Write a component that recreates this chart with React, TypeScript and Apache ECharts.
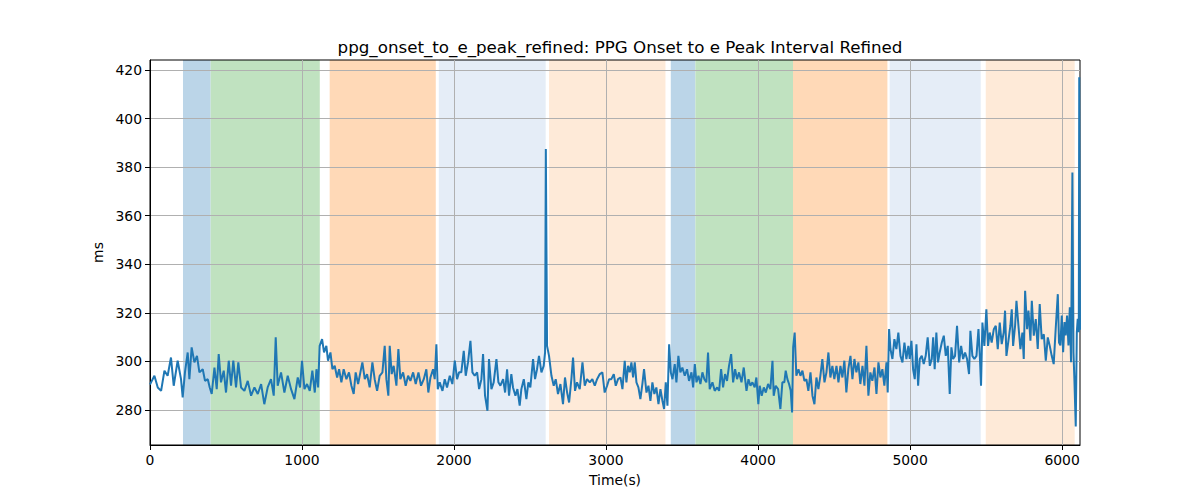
import React, { useEffect, useRef } from "react";
import * as echarts from "echarts";

const TITLE = "ppg_onset_to_e_peak_refined: PPG Onset to e Peak Interval Refined";
const X_LABEL = "Time(s)";
const Y_LABEL = "ms";
const X_TICKS = [0, 1000, 2000, 3000, 4000, 5000, 6000];
const Y_TICKS = [280, 300, 320, 340, 360, 380, 400, 420];
const X_MIN = 0;
const X_MAX = 6118;
const Y_MIN = 265.6;
const Y_MAX = 424.1;

const BAND_STARTS = [217, 399, 1182, 1900, 2625, 3426, 3588, 4230, 4866, 5498];
const BAND_ENDS = [399, 1117, 1880, 2603, 3391, 3588, 4230, 4851, 5465, 6083];
const BAND_COLORS = ["#bbd5e8", "#c0e2c0", "#ffd9b7", "#e5edf7", "#feead8", "#bbd5e8", "#c0e2c0", "#ffd9b7", "#e5edf7", "#feead8"];

const TIME_1 = [0, 7, 29, 51, 73, 95, 116, 138, 156, 182, 204, 215, 230, 248, 259, 274, 292, 309, 325, 347, 362, 380, 393, 406, 424, 439, 452, 467, 485, 500, 518, 533, 548, 566, 581, 599, 621, 643, 665, 687, 709, 731, 752, 774, 796, 814, 827, 840, 862, 884, 906, 928, 950, 972, 987, 1000, 1016, 1033];
const VALUE_1 = [290.5, 291.4, 294.1, 289.3, 287.9, 296.2, 294.1, 301.6, 290, 300.3, 292.7, 285.2, 295.5, 303.7, 292.7, 305.8, 299.6, 302.3, 295.5, 296.8, 292, 292.7, 289.3, 286.6, 297.5, 288.6, 303, 291.4, 296.2, 287.2, 300.3, 290, 300.3, 289.3, 299.6, 289.3, 287.9, 292, 285.9, 289.3, 286.6, 290.7, 282.4, 289.3, 292.7, 285.9, 309.9, 290, 295.5, 287.2, 294.1, 288.6, 284.5, 293.4, 289.3, 300.3, 288.6, 290.7];

const TIME_2 = [1051, 1068, 1084, 1095, 1106, 1116, 1132, 1145, 1160, 1171, 1187, 1200, 1215, 1231, 1244, 1259, 1274, 1292, 1309, 1325, 1340, 1353, 1369, 1384, 1397, 1413, 1428, 1445, 1463, 1478, 1494, 1511, 1529, 1544, 1555, 1568, 1577, 1590, 1603, 1621, 1634, 1647, 1665, 1682, 1698, 1713, 1731, 1748, 1766, 1783, 1801, 1818, 1831, 1845, 1862, 1873, 1884, 1893, 1906, 1924, 1939, 1954, 1972, 1989, 2005, 2020, 2033];
const VALUE_2 = [287.9, 296.2, 287.2, 296.8, 289.3, 306.4, 309.2, 303.7, 306.4, 300.3, 303.7, 296.8, 298.2, 293.4, 296.8, 291.4, 296.8, 292.7, 295.5, 290, 286.6, 295.5, 290.7, 295.5, 299.6, 292.7, 294.8, 289.3, 299.6, 292.7, 287.9, 294.1, 295.5, 306.4, 292.7, 285.9, 306.4, 294.8, 298.2, 290, 305.1, 292.7, 295.5, 290, 294.1, 292, 295.5, 290.7, 295.5, 290, 292.7, 296.8, 287.2, 293.4, 296.8, 292.7, 307.1, 288.6, 291.4, 287.9, 292.7, 289.3, 294.1, 290.7, 300.3, 292.7, 295.5];

const TIME_3 = [2048, 2064, 2077, 2092, 2108, 2121, 2136, 2152, 2165, 2180, 2191, 2204, 2220, 2230, 2246, 2261, 2279, 2292, 2305, 2323, 2336, 2349, 2362, 2377, 2388, 2404, 2417, 2432, 2443, 2459, 2476, 2489, 2502, 2520, 2533, 2546, 2559, 2575, 2590, 2599, 2604, 2612, 2625, 2641, 2656, 2669, 2684, 2700, 2717, 2730, 2744, 2757, 2772, 2783, 2796, 2809, 2827, 2845, 2860, 2875, 2893, 2910, 2926, 2941, 2959, 2976, 2991, 3007, 3020];
const VALUE_3 = [295.5, 304.4, 294.1, 299.6, 308.5, 295.5, 294.1, 295.5, 288.6, 292.7, 303, 285.9, 279.7, 301, 288.6, 291.4, 301, 291.4, 290, 292.7, 287.2, 296.8, 285.9, 294.8, 289.3, 285.9, 288.6, 281.8, 288.6, 292.7, 284.5, 291.4, 289.3, 301, 292.7, 296.8, 302.3, 295.5, 298.2, 303.7, 387.5, 306.4, 302.3, 294.1, 290, 292.7, 286.6, 290.7, 282.4, 293.4, 287.2, 283.1, 292.7, 301.6, 287.9, 291.4, 288.6, 299.6, 290, 292.7, 291.4, 292.7, 290, 292.7, 294.8, 295.5, 287.2, 290, 292.7];

const TIME_4 = [3035, 3051, 3064, 3079, 3095, 3108, 3123, 3134, 3145, 3156, 3167, 3178, 3189, 3200, 3213, 3226, 3239, 3250, 3266, 3279, 3292, 3305, 3318, 3331, 3345, 3358, 3371, 3382, 3393, 3404, 3415, 3426, 3437, 3452, 3463, 3476, 3489, 3502, 3518, 3533, 3546, 3562, 3573, 3584, 3595, 3608, 3621, 3634, 3647, 3660, 3671, 3682, 3700, 3715, 3731, 3744, 3757, 3770, 3783, 3796, 3809, 3823, 3836, 3849, 3862, 3875, 3891, 3906, 3924, 3937, 3950, 3963, 3978, 3989, 4002];
const VALUE_4 = [292.7, 294.8, 290, 292.7, 293.4, 288.6, 300.3, 291.4, 298.2, 295.5, 299.6, 293.4, 299.6, 291.4, 289.3, 284.5, 290.7, 296.8, 287.2, 290, 283.8, 291.4, 286.6, 289.3, 282.4, 288.6, 283.8, 280.4, 291.4, 281.8, 307.1, 295.5, 292.7, 298.9, 291.4, 302.3, 295.5, 297.5, 294.1, 296.8, 292, 295.5, 289.3, 298.9, 291.4, 294.1, 290.7, 295.5, 292.7, 291.4, 303.7, 288.6, 291.4, 287.9, 289.3, 287.9, 296.8, 289.3, 294.8, 292, 298.2, 303, 291.4, 296.8, 292.7, 295.5, 291.4, 297.5, 287.9, 292.7, 290, 291.4, 289.3, 293.4, 282.4];

const TIME_5 = [4011, 4024, 4038, 4051, 4066, 4081, 4095, 4103, 4116, 4132, 4147, 4160, 4173, 4182, 4193, 4204, 4215, 4224, 4231, 4241, 4252, 4266, 4279, 4292, 4305, 4318, 4331, 4345, 4358, 4371, 4384, 4397, 4410, 4423, 4437, 4450, 4463, 4476, 4489, 4502, 4516, 4529, 4542, 4555, 4568, 4581, 4594, 4608, 4621, 4634, 4647, 4660, 4673, 4687, 4700, 4713, 4726, 4739, 4752, 4766, 4779, 4792, 4805, 4818, 4831, 4845, 4853, 4862, 4871, 4884, 4897, 4910, 4923, 4937, 4950, 4963, 4976, 4989];
const VALUE_5 = [290, 285.9, 289.3, 287.2, 290.7, 288.6, 300.3, 285.9, 290, 288.6, 280.4, 291.4, 291.4, 296.2, 292.7, 290.7, 287.9, 279, 305.8, 311.9, 294.1, 296.8, 294.1, 296.2, 292, 292.7, 287.9, 295.5, 285.9, 282.4, 293.4, 288.6, 294.1, 301, 291.4, 295.5, 303.7, 293.4, 298.2, 292.7, 298.2, 291.4, 298.2, 293.4, 300.3, 287.2, 296.8, 302.3, 292.7, 301, 295.5, 299.6, 290.7, 298.2, 290, 306.4, 285.9, 295.5, 292, 297.5, 286.6, 299.6, 293.4, 296.8, 290, 299.6, 287.2, 313.3, 305.1, 301, 309.2, 305.1, 311.9, 302.3, 299.6, 307.8, 301, 306.4];

const TIME_6 = [4998, 5009, 5020, 5031, 5042, 5053, 5064, 5077, 5090, 5103, 5116, 5130, 5143, 5152, 5162, 5173, 5184, 5195, 5209, 5222, 5235, 5248, 5261, 5272, 5283, 5296, 5309, 5323, 5336, 5349, 5362, 5375, 5388, 5397, 5410, 5423, 5437, 5450, 5459, 5467, 5476, 5489, 5502, 5513, 5524, 5537, 5551, 5564, 5577, 5590, 5603, 5616, 5625, 5634, 5647, 5660, 5669, 5678, 5691, 5700, 5713, 5726, 5739, 5748, 5757, 5770, 5779, 5792, 5801, 5814, 5827, 5840, 5853, 5866, 5880, 5893, 5906, 5919, 5932, 5945, 5958, 5972, 5980];
const VALUE_6 = [301, 308.5, 296.8, 292.7, 307.1, 290, 301, 302.3, 298.9, 302.3, 309.9, 298.2, 301, 309.9, 296.8, 311.9, 299.6, 303.7, 307.8, 310.6, 302.3, 306.4, 286.6, 305.8, 301, 302.3, 314.7, 299.6, 306.4, 301, 303.7, 301, 294.8, 312.6, 302.3, 301, 302.3, 313.3, 302.3, 290, 316, 306.4, 321.5, 306.4, 311.9, 307.8, 313.3, 314.7, 305.1, 316, 307.1, 311.9, 320.9, 302.3, 308.5, 314.7, 321.5, 306.4, 314.7, 325, 314.7, 305.1, 311.9, 301, 329.1, 313.3, 320.9, 308.5, 325, 310.6, 317.4, 305.1, 323.6, 309.2, 311.2, 300.3, 309.9, 306.4, 302.3, 298.9, 313.3, 327.7, 307.8];

const TIME_7 = [5989, 5998, 6007, 6016, 6024, 6033, 6042, 6051, 6059, 6068, 6075, 6081, 6090, 6097, 6103, 6110, 6113, 6118];
const VALUE_7 = [306.6, 318.9, 303.8, 316.2, 310.7, 318.9, 306.6, 322.3, 299.7, 377.8, 303.8, 292.9, 273.2, 312, 317.5, 312, 417, 313];

const TIMES = [...TIME_1, ...TIME_2, ...TIME_3, ...TIME_4, ...TIME_5, ...TIME_6, ...TIME_7];
const VALUES = [...VALUE_1, ...VALUE_2, ...VALUE_3, ...VALUE_4, ...VALUE_5, ...VALUE_6, ...VALUE_7];

const FONT = "DejaVu Sans";

export default function App() {
  const ref = useRef<HTMLDivElement>(null);
  useEffect(() => {
    if (!ref.current) return;
    const chart = echarts.init(ref.current, null, { renderer: "svg" });
    const lineData = TIMES.map((t, i) => [t, VALUES[i]]);
    const bandData = BAND_STARTS.map((s, i) => [s, BAND_ENDS[i], i]);
    chart.setOption({
      animation: false,
      backgroundColor: "#ffffff",
      title: {
        text: TITLE,
        left: 615,
        top: 33,
        textAlign: "center",
        textStyle: { fontFamily: FONT, fontSize: 16.7, fontWeight: "normal", color: "#000" },
      },
      grid: {
        left: 150,
        right: 120,
        top: 60,
        bottom: 55,
        show: true,
        borderColor: "#000",
        borderWidth: 1,
        backgroundColor: "transparent",
      },
      xAxis: {
        type: "value",
        min: X_MIN,
        max: X_MAX,
        name: X_LABEL,
        nameLocation: "middle",
        nameGap: 28,
        nameTextStyle: { fontFamily: FONT, fontSize: 13.9, color: "#000" },
        axisLine: { show: true, onZero: false, lineStyle: { color: "#000", width: 1 } },
        axisTick: { show: true, inside: false, length: 5, customValues: X_TICKS, lineStyle: { color: "#000", width: 1 } },
        axisLabel: {
          customValues: X_TICKS,
          fontFamily: FONT,
          fontSize: 13.9,
          color: "#000",
          margin: 8,
          formatter: (v: number) => String(v),
        },
        splitLine: { show: true, lineStyle: { color: "#b0b0b0", width: 1 } },
      },
      yAxis: {
        type: "value",
        min: Y_MIN,
        max: Y_MAX,
        splitNumber: 8,
        name: Y_LABEL,
        nameLocation: "middle",
        nameGap: 42,
        nameRotate: 90,
        nameTextStyle: { fontFamily: FONT, fontSize: 13.9, color: "#000" },
        axisLine: { show: true, onZero: false, lineStyle: { color: "#000", width: 1 } },
        axisTick: { show: true, inside: false, length: 5, customValues: Y_TICKS, lineStyle: { color: "#000", width: 1 } },
        axisLabel: {
          customValues: Y_TICKS,
          fontFamily: FONT,
          fontSize: 13.9,
          color: "#000",
          margin: 8,
          formatter: (v: number) => String(v),
        },
        splitLine: { show: true, lineStyle: { color: "#b0b0b0", width: 1 } },
      },
      series: [
        {
          type: "custom",
          z: -1,
          silent: true,
          clip: true,
          data: bandData,
          encode: { x: [0, 1] },
          renderItem: (params: any, api: any) => {
            const s = api.value(0);
            const e = api.value(1);
            const idx = api.value(2);
            const p0 = api.coord([s, Y_MAX]);
            const p1 = api.coord([e, Y_MAX]);
            const cs = params.coordSys;
            return {
              type: "rect",
              shape: { x: p0[0], y: cs.y, width: p1[0] - p0[0], height: cs.height },
              style: { fill: BAND_COLORS[idx] },
            };
          },
        },
        {
          type: "line",
          data: lineData,
          showSymbol: false,
          symbol: "none",
          z: 3,
          lineStyle: { color: "#1f77b4", width: 2 },
          itemStyle: { color: "#1f77b4" },
        },
      ],
    });
    return () => chart.dispose();
  }, []);
  return <div ref={ref} style={{ position: "absolute", left: 0, top: 0, width: 1200, height: 500 }} />;
}
